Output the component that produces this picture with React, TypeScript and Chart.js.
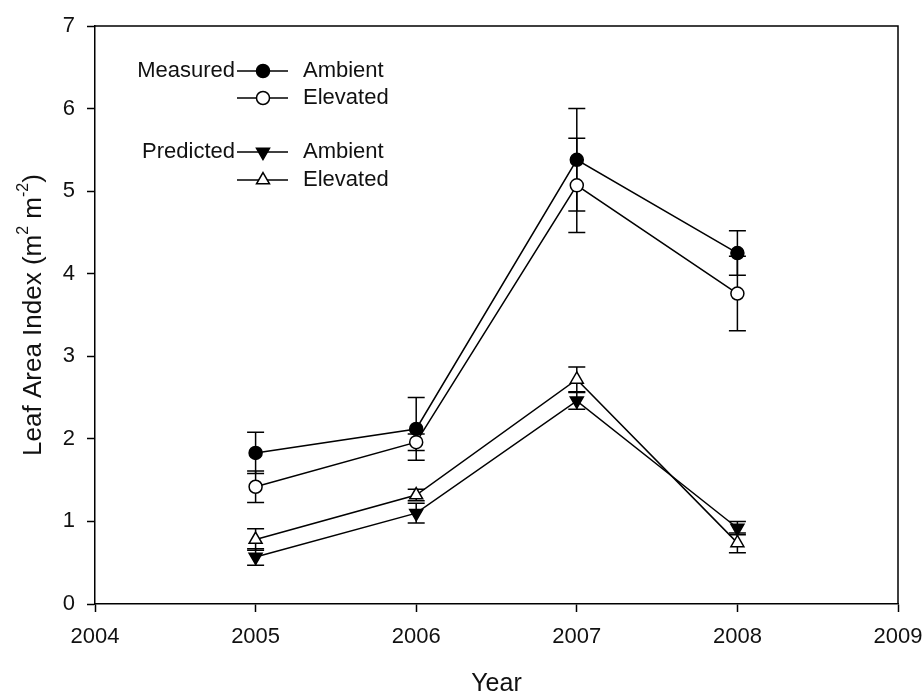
import React, { useEffect, useRef } from "react";
import { Chart, registerables } from "chart.js";

Chart.register(...registerables);

// ---- data ----
const years = [2005, 2006, 2007, 2008];
const xTicks = [2004, 2005, 2006, 2007, 2008, 2009];
const yTicks = [0, 1, 2, 3, 4, 5, 6, 7];

const measuredAmbient = [1.83, 2.12, 5.38, 4.25];
const measuredAmbientErr = [0.25, 0.38, 0.62, 0.27];
const measuredElevated = [1.42, 1.96, 5.07, 3.76];
const measuredElevatedErr = [0.19, 0.1, 0.57, 0.45];
const predictedAmbient = [0.57, 1.1, 2.46, 0.92];
const predictedAmbientErr = [0.1, 0.12, 0.1, 0.08];
const predictedElevated = [0.78, 1.32, 2.72, 0.74];
const predictedElevatedErr = [0.13, 0.07, 0.15, 0.12];

const legendGroups = ["Measured", "Predicted"];
const legendItems = ["Ambient", "Elevated"];

const FONT = '"Liberation Sans", Arial, Helvetica, sans-serif';
const INK = "#000";
const TEXT = "#111";

type Marker = { style: "circle" | "triangle"; fill: string; rotation: number; radius: number };

const markers: Marker[] = [
  { style: "circle", fill: INK, rotation: 0, radius: 6.5 },
  { style: "circle", fill: "#fff", rotation: 0, radius: 6.5 },
  { style: "triangle", fill: INK, rotation: 180, radius: 7.5 },
  { style: "triangle", fill: "#fff", rotation: 0, radius: 7.5 },
];

function drawMarker(ctx: CanvasRenderingContext2D, m: Marker, x: number, y: number) {
  ctx.save();
  ctx.beginPath();
  if (m.style === "circle") {
    ctx.arc(x, y, m.radius, 0, Math.PI * 2);
  } else {
    let rad = (m.rotation * Math.PI) / 180;
    for (let i = 0; i < 3; i++) {
      const px = x + Math.sin(rad) * m.radius;
      const py = y - Math.cos(rad) * m.radius;
      if (i === 0) ctx.moveTo(px, py);
      else ctx.lineTo(px, py);
      rad += (2 * Math.PI) / 3;
    }
    ctx.closePath();
  }
  ctx.fillStyle = m.fill;
  ctx.fill();
  ctx.lineWidth = 1.5;
  ctx.strokeStyle = INK;
  ctx.stroke();
  ctx.restore();
}

// vertical error bars with caps, drawn beneath the markers
const errorBars = {
  id: "errorBars",
  beforeDatasetsDraw(chart: any) {
    const { ctx, scales } = chart;
    ctx.save();
    ctx.strokeStyle = INK;
    ctx.lineWidth = 1.5;
    chart.data.datasets.forEach((ds: any) => {
      const errs: number[] = ds.errors || [];
      ds.data.forEach((p: any, i: number) => {
        const e = errs[i];
        if (!e) return;
        const x = scales.x.getPixelForValue(p.x);
        const yTop = scales.y.getPixelForValue(p.y + e);
        const yBot = scales.y.getPixelForValue(p.y - e);
        const cap = 8.5;
        ctx.beginPath();
        ctx.moveTo(x, yTop);
        ctx.lineTo(x, yBot);
        ctx.moveTo(x - cap, yTop);
        ctx.lineTo(x + cap, yTop);
        ctx.moveTo(x - cap, yBot);
        ctx.lineTo(x + cap, yBot);
        ctx.stroke();
      });
    });
    ctx.restore();
  },
};

// closed frame, grouped legend and y-axis title with superscripts
const decorations = {
  id: "decorations",
  afterDraw(chart: any) {
    const { ctx, chartArea } = chart;
    ctx.save();
    ctx.strokeStyle = INK;
    ctx.lineWidth = 1.5;
    ctx.beginPath();
    ctx.moveTo(chartArea.left, chartArea.top);
    ctx.lineTo(chartArea.right, chartArea.top);
    ctx.lineTo(chartArea.right, chartArea.bottom);
    ctx.stroke();

    // legend
    ctx.font = `22px ${FONT}`;
    ctx.fillStyle = TEXT;
    ctx.textBaseline = "middle";
    const rows = [71, 98, 152, 180];
    const lineStart = 237;
    const lineEnd = 288;
    const markerX = 263;
    rows.forEach((ry, i) => {
      const group = Math.floor(i / 2);
      if (i % 2 === 0) {
        ctx.textAlign = "right";
        ctx.fillText(legendGroups[group], 235, ry);
      }
      ctx.beginPath();
      ctx.moveTo(lineStart, ry);
      ctx.lineTo(lineEnd, ry);
      ctx.stroke();
      drawMarker(ctx, markers[i], markerX, ry);
      ctx.textAlign = "left";
      ctx.fillText(legendItems[i % 2], 303, ry);
    });

    // y-axis title
    const parts = [
      { t: "Leaf Area Index (m", sup: false },
      { t: "2", sup: true },
      { t: " m", sup: false },
      { t: "-2", sup: true },
      { t: ")", sup: false },
    ];
    const big = `26px ${FONT}`;
    const small = `16px ${FONT}`;
    let total = 0;
    const widths = parts.map((p) => {
      ctx.font = p.sup ? small : big;
      const w = ctx.measureText(p.t).width;
      total += w;
      return w;
    });
    ctx.translate(34, (chartArea.top + chartArea.bottom) / 2);
    ctx.rotate(-Math.PI / 2);
    ctx.textAlign = "left";
    let x = -total / 2;
    parts.forEach((p, i) => {
      ctx.font = p.sup ? small : big;
      ctx.fillText(p.t, x, p.sup ? -10 : 0);
      x += widths[i];
    });
    ctx.restore();
  },
};

function series(label: string, values: number[], errs: number[], m: Marker) {
  return {
    label,
    data: years.map((yr, i) => ({ x: yr, y: values[i] })),
    errors: errs,
    showLine: true,
    borderColor: INK,
    borderWidth: 1.5,
    pointStyle: m.style,
    pointRotation: m.rotation,
    pointRadius: m.radius,
    pointBackgroundColor: m.fill,
    pointBorderColor: INK,
    pointBorderWidth: 1.5,
  };
}

export default function App() {
  const ref = useRef<HTMLCanvasElement | null>(null);

  useEffect(() => {
    if (!ref.current) return;
    const chart = new Chart(ref.current, {
      type: "scatter",
      data: {
        datasets: [
          series("Measured Ambient", measuredAmbient, measuredAmbientErr, markers[0]),
          series("Measured Elevated", measuredElevated, measuredElevatedErr, markers[1]),
          series("Predicted Ambient", predictedAmbient, predictedAmbientErr, markers[2]),
          series("Predicted Elevated", predictedElevated, predictedElevatedErr, markers[3]),
        ] as any,
      },
      options: {
        animation: false,
        responsive: true,
        maintainAspectRatio: false,
        layout: { padding: { left: 0, right: 25, top: 26, bottom: 0 } },
        plugins: { legend: { display: false }, tooltip: { enabled: false } },
        scales: {
          x: {
            type: "linear",
            min: xTicks[0],
            max: xTicks[xTicks.length - 1],
            afterBuildTicks: (s: any) => {
              s.ticks = xTicks.map((v) => ({ value: v }));
            },
            afterFit: (s: any) => {
              s.height = 92;
              s.paddingLeft = 0;
              s.paddingRight = 0;
            },
            ticks: {
              callback: (v: any) => String(v),
              font: { size: 22, family: FONT },
              color: TEXT,
              padding: 12,
              maxRotation: 0,
              autoSkip: false,
            },
            grid: { drawOnChartArea: false, drawTicks: true, tickLength: 8, tickWidth: 1.5, tickColor: INK },
            border: { display: true, color: INK, width: 1.5 },
            title: {
              display: true,
              text: "Year",
              font: { size: 25, family: FONT },
              color: TEXT,
              padding: { top: 0, bottom: -3 },
            },
          },
          y: {
            type: "linear",
            min: yTicks[0],
            max: yTicks[yTicks.length - 1],
            afterBuildTicks: (s: any) => {
              s.ticks = yTicks.map((v) => ({ value: v }));
            },
            afterFit: (s: any) => {
              s.width = 95;
              s.paddingTop = 0;
              s.paddingBottom = 0;
            },
            ticks: {
              callback: (v: any) => String(v),
              font: { size: 22, family: FONT },
              color: TEXT,
              padding: 12,
              autoSkip: false,
            },
            grid: { drawOnChartArea: false, drawTicks: true, tickLength: 8, tickWidth: 1.5, tickColor: INK },
            border: { display: true, color: INK, width: 1.5 },
          },
        },
      } as any,
      plugins: [errorBars, decorations],
    });
    return () => chart.destroy();
  }, []);

  return (
    <div style={{ position: "fixed", left: 0, top: 0, width: 923, height: 696, background: "#fff" }}>
      <canvas ref={ref} />
    </div>
  );
}
